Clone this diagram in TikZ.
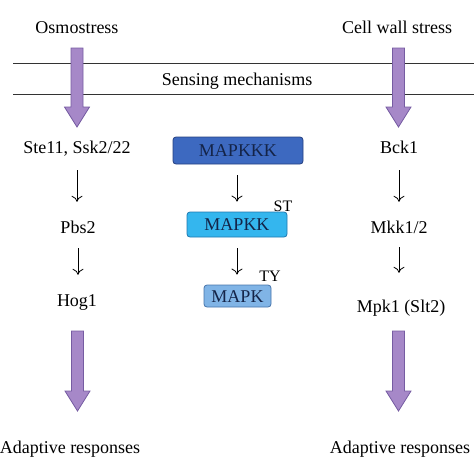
\documentclass[tikz,border=0pt]{standalone}
\usepackage{fontspec}
\setmainfont{Liberation Serif}
\usetikzlibrary{arrows.meta,calc}

\definecolor{lilac}{RGB}{166,136,200}
\definecolor{lilacedge}{RGB}{118,92,162}
\definecolor{kkkblue}{RGB}{61,105,192}
\definecolor{kkkedge}{RGB}{38,64,128}
\definecolor{kkblue}{RGB}{52,182,238}
\definecolor{kkedge}{RGB}{30,120,175}
\definecolor{kblue}{RGB}{128,180,230}
\definecolor{kedge}{RGB}{70,115,170}
\definecolor{boxtext}{RGB}{20,36,72}

% broad purple arrow from #1 (top) to #2 (tip)
\newcommand{\fatarrow}[2]{%
  \draw[fat] ($(#1)+(-6,0)$) -- ($(#2)+(-6,-20)$) -- ($(#2)+(-12.5,-20)$)
    -- (#2) -- ($(#2)+(12.5,-20)$) -- ($(#2)+(6,-20)$) -- ($(#1)+(6,0)$) -- cycle;}

\begin{document}
\begin{tikzpicture}[
    x = 1pt, y = -1pt,
    every node/.style = {font=\fontsize{18}{20}\selectfont, text height=13pt,
                         text depth=4pt, inner sep=0pt, anchor=base},
    kinase/.style = {draw, rounded corners=3pt, line width=0.8pt, text=boxtext,
                     font=\fontsize{18}{20}\selectfont, text height=12.5pt,
                     text depth=0pt, anchor=center},
    site/.style = {font=\fontsize{16}{18}\selectfont},
    relay/.style = {-{To[length=6pt,width=11pt]}, line width=0.8pt},
    fat/.style = {fill=lilac, draw=lilacedge, line width=0.8pt},
    membrane/.style = {draw=black!80, line width=1pt}
  ]
  \useasboundingbox (0,0) rectangle (474,474);

  % stimuli and membrane
  \node (osmo) at (77,33) {Osmostress};
  \node (cws) at (397,33) {Cell wall stress};
  \draw[membrane] (13,63) -- (474,63);
  \draw[membrane] (13,94) -- (474,94);
  \node (sense) at (237,85) {Sensing mechanisms};

  % left branch (Hog1 pathway)
  \node (ste) at (77,153) {Ste11, Ssk2/22};
  \node (pbs) at (78,233) {Pbs2};
  \node (hog) at (77,306) {Hog1};
  \node (adl) at (70,453) {Adaptive responses};

  % right branch (cell wall integrity)
  \node (bck) at (399,153) {Bck1};
  \node (mkk) at (399,233) {Mkk1/2};
  \node (mpk) at (401,312) {Mpk1 (Slt2)};
  \node (adr) at (400,453) {Adaptive responses};

  % generic module
  \node[kinase, fill=kkkblue, draw=kkkedge, minimum width=130pt,
        minimum height=27pt] (mapkkk) at (238,150.5) {MAPKKK};
  \node[kinase, fill=kkblue, draw=kkedge, minimum width=100pt,
        minimum height=25pt] (mapkk) at (237,224.5) {MAPKK};
  \node[kinase, fill=kblue, draw=kedge, minimum width=67pt,
        minimum height=22pt] (mapk) at (237.5,296) {MAPK};
  \node[site] (st) at (283,211) {ST};
  \node[site] (ty) at (270,281) {TY};

  % purple arrows
  \coordinate (osmotop) at (77,48);  \coordinate (osmotip) at (77,127);
  \coordinate (cwstop) at (398.5,48); \coordinate (cwstip) at (398.5,127);
  \coordinate (hogtop) at (77.5,331); \coordinate (hogtip) at (77.5,411);
  \coordinate (mpktop) at (398.5,331); \coordinate (mpktip) at (398.5,411);
  \fatarrow{osmotop}{osmotip}
  \fatarrow{cwstop}{cwstip}
  \fatarrow{hogtop}{hogtip}
  \fatarrow{mpktop}{mpktip}

  % phosphorylation steps
  \draw[relay, shorten <=13pt, shorten >=18pt] (ste.south) -- (ste.south |- pbs.north);
  \draw[relay, shorten <=11pt, shorten >=18pt] (pbs.south) -- (pbs.south |- hog.north);
  \draw[relay, shorten <=13pt, shorten >=18pt] (bck.south) -- (bck.south |- mkk.north);
  \draw[relay, shorten <=10pt, shorten >=26pt] (mkk.south) -- (mkk.south |- mpk.north);
  \draw[relay, shorten <=11pt, shorten >=10pt] (mapkkk.south -| mapkk.north) -- (mapkk.north);
  \draw[relay, shorten <=11pt, shorten >=10pt] (mapkk.south) -- (mapkk.south |- mapk.north);

\end{tikzpicture}
\end{document}
